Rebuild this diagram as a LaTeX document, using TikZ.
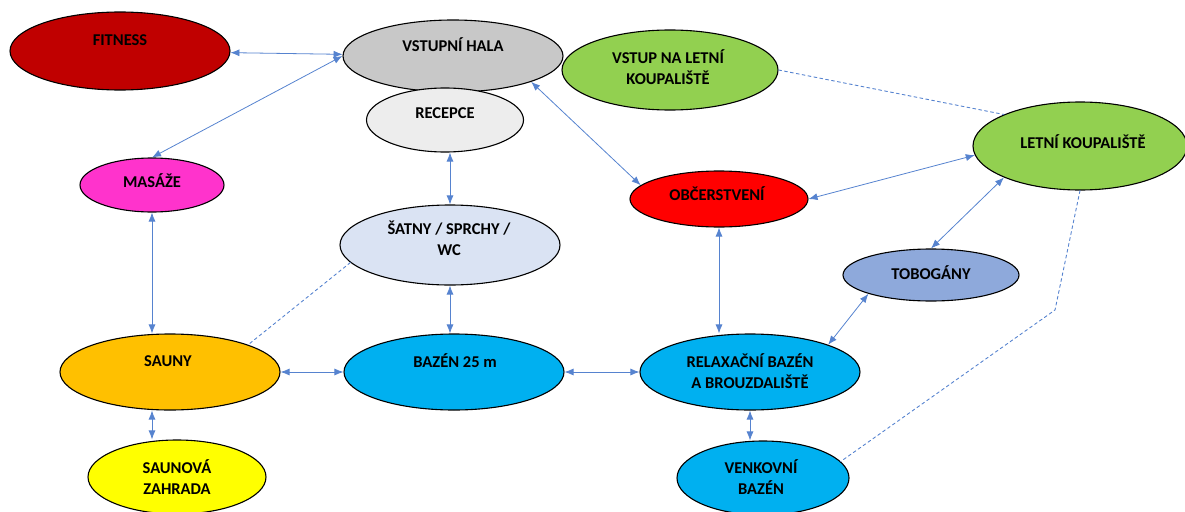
\documentclass[tikz,border=0pt]{standalone}
\usepackage{fontspec}
\setmainfont{Carlito}
\usetikzlibrary{shapes.geometric,arrows.meta}
\definecolor{linkblue}{RGB}{86,131,207}
\definecolor{fitred}{RGB}{192,0,0}
\definecolor{hallgray}{RGB}{200,200,200}
\definecolor{recgray}{RGB}{237,237,237}
\definecolor{summergreen}{RGB}{146,208,80}
\definecolor{snackred}{RGB}{255,0,0}
\definecolor{masspink}{RGB}{255,51,204}
\definecolor{lockerblue}{RGB}{218,227,243}
\definecolor{slideblue}{RGB}{142,169,219}
\definecolor{saunaorange}{RGB}{255,192,0}
\definecolor{poolblue}{RGB}{0,176,240}
\definecolor{gardenyellow}{RGB}{255,255,0}

\begin{document}
\begin{tikzpicture}[x=1pt,y=-1pt,line cap=round,line join=round,
    area/.style={ellipse,draw=black,line width=1.1pt,inner sep=0pt},
    lbl/.style={font=\fontsize{16.5}{21}\selectfont\bfseries,align=center,inner sep=0pt},
    link/.style={draw=linkblue,line width=0.8pt,{Latex[length=9pt,width=7pt]}-{Latex[length=9pt,width=7pt]}},
    dlink/.style={draw=linkblue,line width=0.9pt,dashed}]
    \useasboundingbox (0,0) rectangle (1185,511);
    % areas
    \node[area,fill=fitred,minimum width=220pt,minimum height=78pt] (fitness) at (120,51) {};
    \node[lbl] (fitness-t) at (120,40) {FITNESS};
    \node[area,fill=hallgray,minimum width=220pt,minimum height=72pt] (hall) at (453,56) {};
    \node[lbl] (hall-t) at (453,45) {VSTUPNÍ HALA};
    \node[area,fill=recgray,minimum width=157pt,minimum height=64pt] (recepce) at (445,120) {};
    \node[lbl] (recepce-t) at (445,113) {RECEPCE};
    \node[area,fill=summergreen,minimum width=216pt,minimum height=80pt] (vstupletni) at (670,70) {};
    \node[lbl] (vstupletni-t) at (668,67) {VSTUP NA LETNÍ\\KOUPALIŠTĚ};
    \node[area,fill=summergreen,minimum width=214pt,minimum height=88pt] (letni) at (1080,146) {};
    \node[lbl] (letni-t) at (1083,142) {LETNÍ KOUPALIŠTĚ};
    \node[area,fill=snackred,minimum width=178pt,minimum height=56pt] (obc) at (719,199) {};
    \node[lbl] (obc-t) at (717,194) {OBČERSTVENÍ};
    \node[area,fill=masspink,minimum width=144pt,minimum height=54pt] (masaze) at (152,185) {};
    \node[lbl] (masaze-t) at (152,181) {MASÁŽE};
    \node[area,fill=lockerblue,minimum width=220pt,minimum height=80pt] (satny) at (450,245) {};
    \node[lbl] (satny-t) at (449,238) {ŠATNY / SPRCHY /\\WC};
    \node[area,fill=slideblue,minimum width=176pt,minimum height=52pt] (tobogany) at (931,275) {};
    \node[lbl] (tobogany-t) at (931,273) {TOBOGÁNY};
    \node[area,fill=saunaorange,minimum width=220pt,minimum height=76pt] (sauny) at (170,372) {};
    \node[lbl] (sauny-t) at (168,361) {SAUNY};
    \node[area,fill=poolblue,minimum width=220pt,minimum height=76pt] (bazen) at (454,372) {};
    \node[lbl] (bazen-t) at (455,361) {BAZÉN 25 m};
    \node[area,fill=poolblue,minimum width=220pt,minimum height=76pt] (relax) at (750,372) {};
    \node[lbl] (relax-t) at (750,371) {RELAXAČNÍ BAZÉN\\A BROUZDALIŠTĚ};
    \node[area,fill=gardenyellow,minimum width=178pt,minimum height=74pt] (zahrada) at (177,477) {};
    \node[lbl] (zahrada-t) at (177,477) {SAUNOVÁ\\ZAHRADA};
    \node[area,fill=poolblue,minimum width=172pt,minimum height=74pt] (venkovni) at (763,478) {};
    \node[lbl] (venkovni-t) at (761,477) {VENKOVNÍ\\BAZÉN};
    % connections
    \draw[link] (fitness) -- (hall);
    \draw[link] (hall.west) -- (masaze.north);
    \draw[link] (hall.south east) -- (obc.170);
    \draw[link] (recepce.south -| satny.north) -- (satny.north);
    \draw[link] (satny.south) -- (satny.south |- bazen.north);
    \draw[link] (masaze.south) -- (masaze.south |- sauny.north);
    \draw[link] (sauny.south -| masaze.south) -- (zahrada.north -| masaze.south);
    \draw[link] (sauny) -- (bazen);
    \draw[link] (bazen) -- (relax);
    \draw[link] (obc.south) -- (obc.south |- relax.north);
    \draw[link] (obc.east) -- (letni.185);
    \draw[link] (letni.south west) -- (tobogany.north);
    \draw[link] (tobogany.south west) -- (relax.north east);
    \draw[link] (relax.south) -- (relax.south |- venkovni.north);
    % dashed paths
    \coordinate (bend) at (1055,310);
    \draw[dlink] (vstupletni.east) -- (letni.north west);
    \draw[dlink] (satny.190) -- (sauny.north east);
    \draw[dlink] (letni.south) -- (bend) -- (venkovni.12);
\end{tikzpicture}
\end{document}
